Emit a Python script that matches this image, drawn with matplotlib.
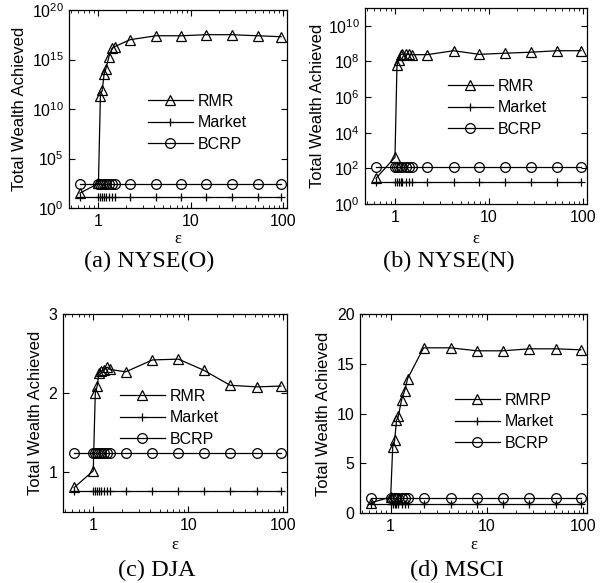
import numpy as np
import matplotlib
matplotlib.use('Agg')
import matplotlib.pyplot as plt
from matplotlib.ticker import FixedLocator, NullLocator, LogLocator, FixedFormatter

plt.rcParams['font.family'] = ['Liberation Sans', 'DejaVu Sans']
plt.rcParams['mathtext.fontset'] = 'custom'
plt.rcParams['mathtext.rm'] = 'Liberation Sans'

# epsilon values (x axis), shared by all panels
eps = [0.63, 1.0, 1.05, 1.1, 1.15, 1.2, 1.3, 1.4, 1.5, 2.2, 4.2, 7.9, 14.6, 27.7, 53, 95]

# (a) NYSE(O)
rmr_nyseo = [3.2e1, 3.0e2, 2.2e11, 8.0e11, 3.2e13, 1.0e14, 2.0e15, 1.3e16, 2.0e16,
             1.0e17, 2.5e17, 2.5e17, 3.2e17, 3.2e17, 2.5e17, 2.0e17]
market_nyseo = [14.50] * len(eps)
bcrp_nyseo = [250.60] * len(eps)

# (b) NYSE(N)
rmr_nysen = [2.8e1, 4.2e2, 6.0e7, 1.2e8, 2.4e8, 2.6e8, 2.6e8, 2.5e8, 2.4e8,
             2.4e8, 4.0e8, 2.5e8, 2.9e8, 3.3e8, 4.0e8, 4.0e8]
market_nysen = [18.06] * len(eps)
bcrp_nysen = [120.56] * len(eps)

# (c) DJA
rmr_dja = [0.81, 1.02, 2.00, 2.09, 2.26, 2.28, 2.29, 2.33, 2.30,
           2.27, 2.42, 2.43, 2.29, 2.10, 2.08, 2.09]
market_dja = [0.76] * len(eps)
bcrp_dja = [1.24] * len(eps)

# (d) MSCI
rmr_msci = [1.04, 1.60, 6.6, 7.3, 9.3, 9.7, 11.4, 12.3, 13.5,
            16.6, 16.6, 16.3, 16.3, 16.5, 16.5, 16.4]
market_msci = [0.91] * len(eps)
bcrp_msci = [1.51] * len(eps)

captions = ['(a) NYSE(O)', '(b) NYSE(N)', '(c) DJA', '(d) MSCI']

W, H = 600, 583
fig = plt.figure(figsize=(W / 100, H / 100), dpi=100)


def draw_panel(box, rmr, market, bcrp, rmr_label, leg_px, ylab_px, xlab_px, logy):
    left, top, right, bottom = box
    w, h = right - left, bottom - top
    ax = fig.add_axes([left / W, 1 - bottom / H, w / W, h / H])
    ax.plot(eps, rmr, '-', color='k', lw=0.9, marker='^', ms=7.5, mfc='none', mec='k',
            mew=0.9, label=rmr_label)
    ax.plot(eps, market, '-', color='k', lw=0.9, marker='+', ms=5.5, mew=0.9, label='Market')
    ax.plot(eps, bcrp, '-', color='k', lw=0.9, marker='o', ms=7, mfc='none', mec='k',
            mew=0.9, label='BCRP')
    ax.set_xscale('log')
    ax.set_xlim(0.48, 110)
    ax.xaxis.set_major_locator(FixedLocator([1, 10, 100]))
    ax.xaxis.set_major_formatter(FixedFormatter(['1', '10', '100']))
    ax.xaxis.set_minor_locator(LogLocator(base=10, subs=np.arange(2, 10)))
    if logy:
        ax.set_yscale('log')
        ax.yaxis.set_minor_locator(NullLocator())
    ax.tick_params(which='both', direction='in', top=True, right=True, labelsize=11.5)
    ax.tick_params(which='major', length=4, width=0.8, pad=4)
    ax.tick_params(which='minor', length=2, width=0.6)
    for sp in ax.spines.values():
        sp.set_linewidth(0.9)
    ax.set_xlabel('ε', family=['Liberation Serif'], fontsize=12, va='baseline')
    ax.xaxis.set_label_coords(0.5, -(xlab_px - bottom) / h)
    ax.set_ylabel('Total Wealth Achieved', fontsize=12, va='center')
    ax.yaxis.set_label_coords((ylab_px - left) / w, 0.5)
    ax.legend(loc='upper left',
              bbox_to_anchor=((leg_px[0] - left) / w, 1 - (leg_px[1] - top) / h),
              frameon=False, fontsize=11.5, handlelength=2.8, handletextpad=0.3,
              labelspacing=0.4, borderpad=0, borderaxespad=0)
    return ax


ax_a = draw_panel((69, 10, 287, 208), rmr_nyseo, market_nyseo, bcrp_nyseo, 'RMR',
                  (148, 94), 20, 243, True)
ax_a.set_ylim(1, 1e20)
ax_a.yaxis.set_major_locator(FixedLocator([1, 1e5, 1e10, 1e15, 1e20]))

ax_b = draw_panel((365, 8, 587, 204), rmr_nysen, market_nysen, bcrp_nysen, 'RMR',
                  (448, 79), 318, 243, True)
ax_b.set_ylim(1, 1e11)
ax_b.yaxis.set_major_locator(FixedLocator([1, 1e2, 1e4, 1e6, 1e8, 1e10]))

ax_c = draw_panel((63, 314, 287, 512), rmr_dja, market_dja, bcrp_dja, 'RMR',
                  (120, 389), 36, 549, False)
ax_c.set_ylim(0.5, 3)
ax_c.set_yticks([1, 2, 3])

ax_d = draw_panel((360, 314, 587, 513), rmr_msci, market_msci, bcrp_msci, 'RMRP',
                  (455, 393), 323, 549, False)
ax_d.set_ylim(0, 20)
ax_d.set_yticks([0, 5, 10, 15, 20])

# caption centre x and baseline y, in pixels
cap_xy = [(149, 267), (449, 267), (157, 576), (457, 576)]
for txt, (cx, cy) in zip(captions, cap_xy):
    fig.text(cx / W, 1 - cy / H, txt, ha='center', va='baseline',
             family=['Liberation Serif'], fontsize=17.5)

fig.savefig('out.png', dpi=100)
